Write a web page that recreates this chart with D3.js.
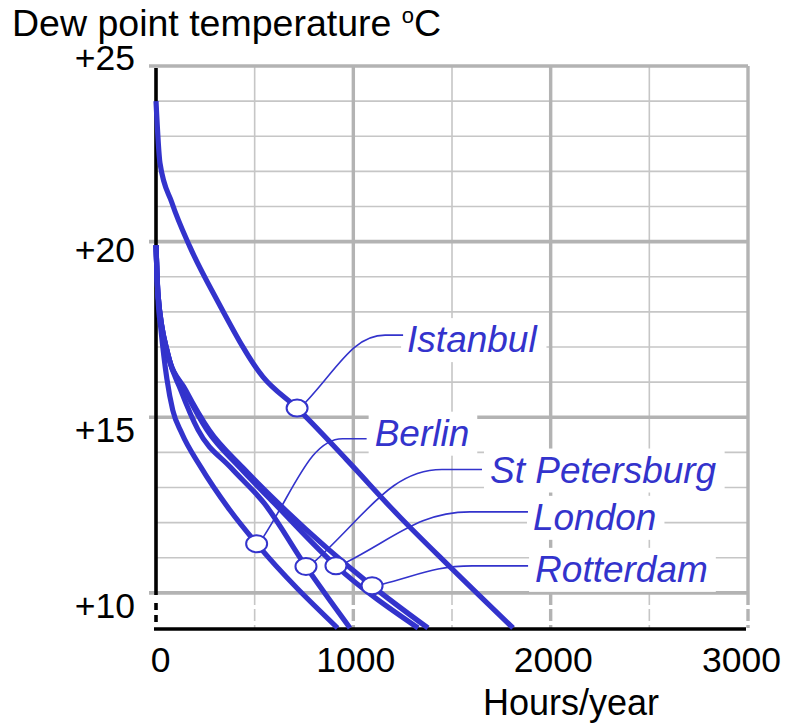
<!DOCTYPE html>
<html>
<head>
<meta charset="utf-8">
<script src="https://cdn.jsdelivr.net/npm/d3@7"></script>
<style>
  html, body { margin: 0; padding: 0; background: #ffffff; }
  svg { display: block; font-family: "Liberation Sans", Arial, Helvetica, sans-serif; }
</style>
</head>
<body>
<svg id="chart" width="789" height="727"></svg>
<script>
// Hours per year at or above each dew point temperature, per city: [hours, °C]
const istanbul     = [[0, 24.0], [20, 22.24], [81, 21.1], [172, 19.85], [309, 18.34], [542, 16.15], [715, 15.26], [968, 13.78], [1236, 12.16], [1490, 10.74], [1809, 9.0]];
const berlin       = [[0, 19.9], [10, 18.4], [25, 17.5], [55, 16.1], [85, 15.2], [130, 14.55], [225, 13.6], [375, 12.35], [510, 11.4], [920, 9.0]];
const stPetersburg = [[0, 19.9], [10, 18.5], [60, 16.8], [125, 15.78], [213, 14.64], [380, 13.56], [547, 12.56], [760, 10.75], [983, 9.0]];
const london       = [[0, 19.9], [10, 18.5], [60, 16.8], [145, 15.78], [258, 14.64], [426, 13.56], [598, 12.56], [912, 10.77], [1328, 9.0]];
const rotterdam    = [[0, 19.9], [10, 18.5], [60, 16.8], [150, 15.78], [269, 14.64], [441, 13.56], [618, 12.56], [1095, 10.2], [1378, 9.0]];

const cityNames = ["Istanbul", "Berlin", "St Petersburg", "London", "Rotterdam"];
const citySeries = [istanbul, berlin, stPetersburg, london, rotterdam];
// Labelled point on each curve (a vertex of that curve)
const markerPoints = [[715, 15.26], [510, 11.4], [760, 10.75], [912, 10.77], [1095, 10.2]];

const xTicks = [0, 1000, 2000, 3000];
const xTickLabels = ["0", "1000", "2000", "3000"];
const yTicks = [10, 15, 20, 25];
const yTickLabels = ["+10", "+15", "+20", "+25"];
const xTitle = "Hours/year";
const yTitle = "Dew point temperature ";

// ---- styling / layout ----
const BLUE = "#3333cc";
const GRID_MINOR = "#c6c6c6";
const GRID_MAJOR = "#b3b3b3";
const TICK_FONT = 35.5;
const LABEL_FONT = 37;

// label placement relative to its marker (pixels)
const labelLayout = {
  "Istanbul":      { dx: 110, dy: -56, leadY: -73,  gap: 4,  run: 18 },
  "Berlin":        { dx: 118, dy: -98, leadY: -105, gap: 8,  run: 24 },
  "St Petersburg": { dx: 184, dy: -84, leadY: -97,  gap: 8,  run: 40 },
  "London":        { dx: 197, dy: -36, leadY: -54,  gap: 5,  run: 58 },
  "Rotterdam":     { dx: 163, dy: -4,  leadY: -20,  gap: 7,  run: 56 }
};
// vertical shift of the y tick labels, in em
const yLabelShift = d => d === 25 ? "0.1em" : d === 20 ? "0.55em" : "0.68em";

const svg = d3.select("#chart");

const x = d3.scaleLinear().domain([0, 3000]).range([156, 748]);
const y = d3.scaleLinear().domain([9, 25]).range([628, 66]);

// ---- grid ----
const grid = svg.append("g");
const minorTemps = d3.range(11, 25).filter(t => t % 5 !== 0);
grid.selectAll("line.hminor").data(minorTemps).join("line")
  .attr("x1", x(0)).attr("x2", x(3000))
  .attr("y1", d => y(d)).attr("y2", d => y(d))
  .attr("stroke", GRID_MINOR).attr("stroke-width", 1.6);

const vLines = d3.range(500, 3001, 500);
// solid part above +10
grid.selectAll("line.vsolid").data(vLines).join("line")
  .attr("x1", d => x(d)).attr("x2", d => x(d))
  .attr("y1", y(25)).attr("y2", y(10))
  .attr("stroke", d => d % 1000 === 0 ? GRID_MAJOR : GRID_MINOR)
  .attr("stroke-width", d => d % 1000 === 0 ? 3.4 : 1.6);
// broken part below +10
grid.selectAll("line.vdash").data(vLines).join("line")
  .attr("x1", d => x(d)).attr("x2", d => x(d))
  .attr("y1", y(10)).attr("y2", y(9))
  .attr("stroke", d => d % 1000 === 0 ? GRID_MAJOR : GRID_MINOR)
  .attr("stroke-width", d => d % 1000 === 0 ? 3.4 : 1.6)
  .attr("stroke-dasharray", "12,4");

grid.selectAll("line.hmajor").data(yTicks).join("line")
  .attr("x1", x(0) - 7).attr("x2", x(3000))
  .attr("y1", d => y(d)).attr("y2", d => y(d))
  .attr("stroke", GRID_MAJOR).attr("stroke-width", 3.6);

// ---- axes lines ----
svg.append("line")
  .attr("x1", x(0)).attr("x2", x(0))
  .attr("y1", y(25) + 2).attr("y2", y(10) + 2)
  .attr("stroke", "#000").attr("stroke-width", 3.6);
svg.append("line")
  .attr("x1", x(0)).attr("x2", x(0))
  .attr("y1", y(10) + 10).attr("y2", y(9) - 2)
  .attr("stroke", "#000").attr("stroke-width", 3.6)
  .attr("stroke-dasharray", "7,5");
svg.append("line")
  .attr("x1", x(0) - 2).attr("x2", x(3000) - 2)
  .attr("y1", y(9) + 1).attr("y2", y(9) + 1)
  .attr("stroke", "#000").attr("stroke-width", 3.6);

// ---- tick labels via d3 axes ----
const xAxis = d3.axisBottom(x).tickValues(xTicks).tickSize(0).tickPadding(0)
  .tickFormat((d, i) => xTickLabels[i]);
const gx = svg.append("g").attr("transform", `translate(0,${y(9)})`).call(xAxis);
gx.select(".domain").remove();
gx.selectAll("text")
  .attr("y", 44).attr("dy", null)
  .attr("dx", d => d === 0 ? 4 : d === 3000 ? -7 : 2)
  .attr("font-size", TICK_FONT).attr("font-family", "Liberation Sans, Arial, sans-serif")
  .attr("fill", "#000");

const yAxis = d3.axisLeft(y).tickValues(yTicks).tickSize(0).tickPadding(0)
  .tickFormat((d, i) => yTickLabels[i]);
const gy = svg.append("g").attr("transform", `translate(${x(0) - 21},0)`).call(yAxis);
gy.select(".domain").remove();
gy.selectAll("text")
  .attr("x", 0)
  .attr("dy", yLabelShift)
  .attr("font-size", TICK_FONT).attr("font-family", "Liberation Sans, Arial, sans-serif")
  .attr("fill", "#000");

// ---- titles ----
const yt = svg.append("text").attr("x", 12).attr("y", 36)
  .attr("font-size", 37.5).attr("fill", "#000");
yt.append("tspan").text(yTitle);
yt.append("tspan").text("o").attr("font-size", 22).attr("dy", -13);
yt.append("tspan").text("C").attr("dy", 13);

svg.append("text").attr("x", 571).attr("y", 715)
  .attr("text-anchor", "middle").attr("font-size", 36).attr("fill", "#000")
  .text(xTitle);

// ---- layers ----
const bgLayer = svg.append("g");
const curveLayer = svg.append("g");
const leaderLayer = svg.append("g");
const markerLayer = svg.append("g");
const textLayer = svg.append("g");

const line = d3.line().curve(d3.curveMonotoneX)
  .x(d => x(d[0])).y(d => y(d[1]));

curveLayer.selectAll("path").data(citySeries).join("path")
  .attr("d", line)
  .attr("fill", "none").attr("stroke", BLUE)
  .attr("stroke-width", 5.2).attr("stroke-linejoin", "round");

cityNames.forEach((name, i) => {
  const m = markerPoints[i];
  const mx = x(m[0]), my = y(m[1]);
  const L = labelLayout[name];
  const tx = mx + L.dx, ty = my + L.dy;

  const t = textLayer.append("text")
    .attr("x", tx).attr("y", ty)
    .attr("font-size", LABEL_FONT).attr("font-style", "italic")
    .attr("fill", BLUE).text(name);
  // white box behind each label so the grid breaks around it
  const bb = t.node().getBBox();
  bgLayer.append("rect")
    .attr("x", bb.x - 6).attr("y", bb.y - 1)
    .attr("width", bb.width + 14).attr("height", bb.height + 3)
    .attr("fill", "#fff");

  // leader: from the ellipse edge, curving up into a short horizontal run
  const ex = tx - L.gap, ey = my + L.leadY;
  const kx = ex - L.run, ky = ey;
  const ang = Math.atan2(ky - my, kx - mx);
  const sx = mx + 10.5 * Math.cos(ang), sy = my + 8.5 * Math.sin(ang);
  const c1x = sx + 0.4 * (kx - sx), c1y = sy + 0.5 * (ky - sy);
  const c2x = sx + 0.6 * (kx - sx), c2y = ky;
  leaderLayer.append("path")
    .attr("d", `M${sx},${sy} C${c1x},${c1y} ${c2x},${c2y} ${kx},${ky} L${ex},${ey}`)
    .attr("fill", "none").attr("stroke", BLUE).attr("stroke-width", 1.6);

  markerLayer.append("ellipse")
    .attr("cx", mx).attr("cy", my)
    .attr("rx", 10.5).attr("ry", 8.5)
    .attr("fill", "#fff").attr("stroke", BLUE).attr("stroke-width", 2);
});
</script>
</body>
</html>
